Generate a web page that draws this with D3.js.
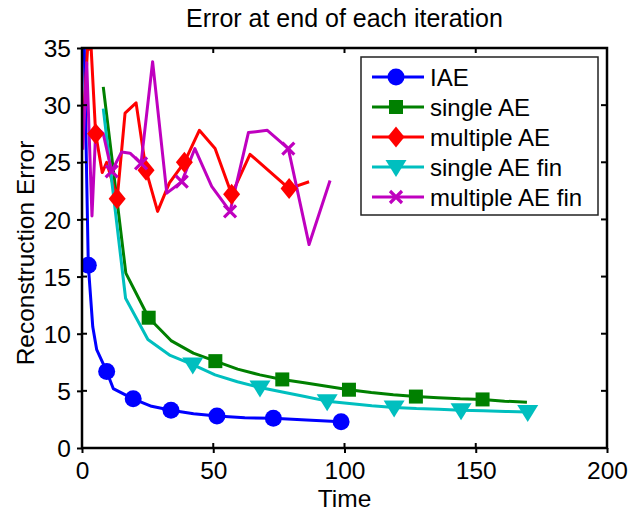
<!DOCTYPE html>
<html>
<head>
<meta charset="utf-8">
<script src="https://cdn.jsdelivr.net/npm/d3@7"></script>
<style>
  html, body { margin: 0; padding: 0; background: #fff; }
  svg text { font-family: "Liberation Sans", Arial, sans-serif; fill: #000; }
</style>
</head>
<body>
<svg id="chart" width="630" height="515"></svg>
<script>
// ---------------- data ----------------
const title = "Error at end of each iteration";
const xLabel = "Time";
const yLabel = "Reconstruction Error";
const xTicks = [0, 50, 100, 150, 200];
const yTicks = [0, 5, 10, 15, 20, 25, 30, 35];

const iaeTime   = [0.8, 2.4, 4.1, 5.6, 9.4, 11.9, 19.5, 26.5, 33.9, 42.5, 51.4, 62.0, 72.9, 85.5, 98.7];
const iaeError  = [36, 16.0, 10.6, 8.6, 6.7, 5.2, 4.3, 3.65, 3.3, 3.0, 2.8, 2.65, 2.6, 2.45, 2.3];
const iaeMarks  = [1, 4, 6, 8, 10, 12, 14];

const singleTime  = [8.1, 16.7, 25.4, 33.9, 42.4, 50.8, 59.3, 67.8, 76.3, 84.7, 93.2, 101.7, 110.2, 118.6, 127.2, 135.6, 144.1, 152.6, 161.0, 169.5];
const singleError = [31.6, 15.3, 11.4, 9.4, 8.3, 7.6, 6.9, 6.4, 6.0, 5.7, 5.4, 5.1, 4.85, 4.65, 4.5, 4.4, 4.3, 4.25, 4.1, 4.0];
const singleMarks = [2, 5, 8, 11, 14, 17];

const multiTime  = [0.3, 2.1, 3.5, 5.2, 7.7, 9.4, 13.4, 16.4, 20.6, 24.4, 28.8, 33.3, 39.0, 44.7, 50.7, 57.0, 64.0, 78.9, 86.5];
const multiError = [27.5, 34.9, 34.9, 27.5, 24.1, 25.0, 21.8, 29.3, 30.2, 24.3, 20.7, 23.2, 25.0, 27.8, 26.2, 22.2, 25.7, 22.7, 23.3];
const multiMarks = [3, 6, 9, 12, 15, 17];

const singleFinTime  = [8.1, 16.6, 25.1, 33.6, 42.2, 50.7, 59.2, 67.8, 76.3, 84.9, 93.4, 101.9, 110.4, 118.9, 127.4, 135.9, 144.4, 152.9, 161.4, 169.8];
const singleFinError = [29.7, 13.1, 9.5, 8.1, 7.3, 6.4, 5.8, 5.3, 4.9, 4.5, 4.1, 3.9, 3.7, 3.55, 3.45, 3.4, 3.3, 3.25, 3.2, 3.15];
const singleFinMarks = [4, 7, 10, 13, 16, 19];

const multiFinTime  = [0.3, 1.8, 3.8, 5.3, 8.1, 11.3, 15.1, 18.3, 22.5, 26.9, 32.3, 38.0, 43.0, 49.4, 56.4, 63.4, 70.6, 78.6, 86.5, 94.5];
const multiFinError = [26.1, 33.7, 20.3, 28.1, 27.5, 24.2, 25.9, 25.8, 24.9, 33.8, 22.3, 23.3, 26.2, 22.9, 20.7, 27.6, 27.8, 26.2, 17.8, 23.4];
const multiFinMarks = [5, 8, 11, 14, 17];

const seriesNames  = ["IAE", "single AE", "multiple AE", "single AE fin", "multiple AE fin"];
const seriesColors = ["#0000ff", "#008000", "#ff0000", "#00bfbf", "#bf00bf"];
const seriesShapes = ["circle", "square", "diamond", "triangle", "x"];

const series = [
  {t: iaeTime, v: iaeError, m: iaeMarks},
  {t: singleTime, v: singleError, m: singleMarks},
  {t: multiTime, v: multiError, m: multiMarks},
  {t: singleFinTime, v: singleFinError, m: singleFinMarks},
  {t: multiFinTime, v: multiFinError, m: multiFinMarks}
].map((s, i) => ({...s, name: seriesNames[i], color: seriesColors[i], shape: seriesShapes[i]}));

// ---------------- layout ----------------
const svg = d3.select("#chart");
const L = 82, R = 607, T = 48, B = 448;
const x = d3.scaleLinear().domain([0, 200]).range([L, R]);
const y = d3.scaleLinear().domain([0, 35]).range([B, T]);

svg.append("defs").append("clipPath").attr("id", "clip")
  .append("rect").attr("x", L).attr("y", T).attr("width", R - L).attr("height", B - T);

function markerPath(shape) {
  switch (shape) {
    case "circle": return null;
    case "square": return "M-7,-7H7V7H-7Z";
    case "diamond": return "M0,-10.5L8.5,0L0,10.5L-8.5,0Z";
    case "triangle": return "M-10.5,-7L10.5,-7L0,10Z";
    case "x": return "M-6,-6L6,6M-6,6L6,-6";
  }
}
function drawMarker(g, shape, color, cx, cy) {
  if (shape === "circle") {
    g.append("circle").attr("cx", cx).attr("cy", cy).attr("r", 8.5).attr("fill", color);
  } else if (shape === "x") {
    g.append("path").attr("d", markerPath(shape)).attr("transform", `translate(${cx},${cy})`)
      .attr("stroke", color).attr("stroke-width", 3.2).attr("fill", "none");
  } else {
    g.append("path").attr("d", markerPath(shape)).attr("transform", `translate(${cx},${cy})`)
      .attr("fill", color);
  }
}

// ---------------- series ----------------
const plot = svg.append("g").attr("clip-path", "url(#clip)");
const line = d3.line().x(d => x(d[0])).y(d => y(d[1]));
series.forEach(s => {
  const pts = s.t.map((t, i) => [t, s.v[i]]);
  plot.append("path").attr("d", line(pts)).attr("fill", "none")
    .attr("stroke", s.color).attr("stroke-width", 3).attr("stroke-linejoin", "round");
});
series.forEach(s => {
  s.m.forEach(i => drawMarker(plot, s.shape, s.color, x(s.t[i]), y(s.v[i])));
});

// ---------------- axes ----------------
const ax = svg.append("g");
ax.append("rect").attr("x", L).attr("y", T).attr("width", R - L).attr("height", B - T)
  .attr("fill", "none").attr("stroke", "#000").attr("stroke-width", 2.5);

const xAxis = svg.append("g").attr("transform", `translate(0,${B})`)
  .call(d3.axisBottom(x).tickValues(xTicks).tickSize(5).tickFormat(d3.format("d")));
const yAxis = svg.append("g").attr("transform", `translate(${L},0)`)
  .call(d3.axisLeft(y).tickValues(yTicks).tickSize(5).tickFormat(d3.format("d")));
[xAxis, yAxis].forEach(a => {
  a.select(".domain").remove();
  a.selectAll(".tick line").attr("stroke", "#000").attr("stroke-width", 2);
  a.selectAll(".tick text").attr("font-size", 24.5).attr("fill", "#000")
    .style("font-family", '"Liberation Sans", Arial, sans-serif');
});
xAxis.selectAll(".tick text").attr("y", 14).attr("dy", "0.71em");
yAxis.selectAll(".tick text").attr("x", -11).attr("dy", "0.35em");

// inner ticks (top, right, and inward on left/bottom)
xTicks.forEach(t => {
  ax.append("line").attr("x1", x(t)).attr("x2", x(t)).attr("y1", B).attr("y2", B - 5).attr("stroke", "#000").attr("stroke-width", 2);
  ax.append("line").attr("x1", x(t)).attr("x2", x(t)).attr("y1", T).attr("y2", T + 5).attr("stroke", "#000").attr("stroke-width", 2);
});
yTicks.forEach(t => {
  ax.append("line").attr("x1", L).attr("x2", L + 5).attr("y1", y(t)).attr("y2", y(t)).attr("stroke", "#000").attr("stroke-width", 2);
  ax.append("line").attr("x1", R).attr("x2", R - 6).attr("y1", y(t)).attr("y2", y(t)).attr("stroke", "#000").attr("stroke-width", 2);
});

// titles
svg.append("text").attr("x", (L + R) / 2).attr("y", 27).attr("text-anchor", "middle")
  .attr("font-size", 25).text(title);
svg.append("text").attr("x", (L + R) / 2).attr("y", 507).attr("text-anchor", "middle")
  .attr("font-size", 24.5).text(xLabel);
svg.append("text").attr("transform", `translate(34,${(T + B) / 2 + 5}) rotate(-90)`)
  .attr("text-anchor", "middle").attr("font-size", 24.5).text(yLabel);

// ---------------- legend ----------------
const lg = svg.append("g");
lg.append("rect").attr("x", 361).attr("y", 57).attr("width", 237).attr("height", 158)
  .attr("fill", "#fff").attr("stroke", "#222").attr("stroke-width", 1.5);
series.forEach((s, i) => {
  const cy = 77 + i * 30;
  lg.append("line").attr("x1", 372).attr("x2", 424).attr("y1", cy).attr("y2", cy)
    .attr("stroke", s.color).attr("stroke-width", 3);
  drawMarker(lg, s.shape, s.color, 396, cy);
  lg.append("text").attr("x", 430).attr("y", cy + 8.5).attr("font-size", 24).text(s.name);
});
</script>
</body>
</html>
